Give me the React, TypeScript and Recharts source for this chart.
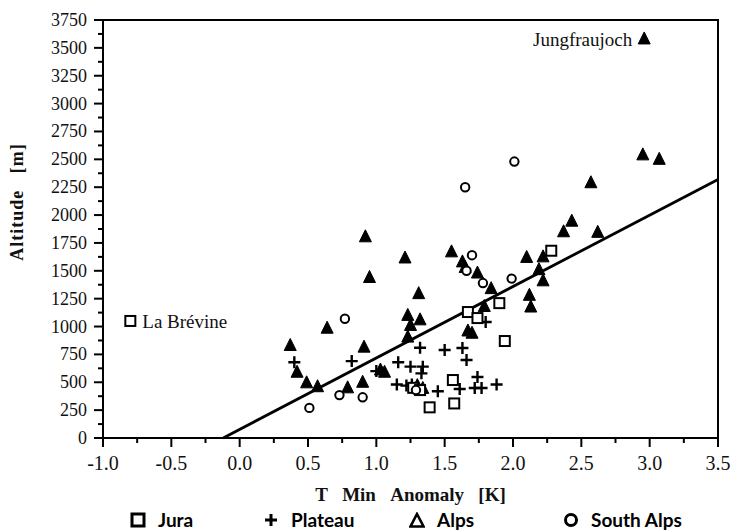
import React from "react";
import { ScatterChart, Scatter, XAxis, YAxis, ReferenceLine, ReferenceArea, ReferenceDot } from "recharts";

// tick positions
const xTicks = [-1, -0.75, -0.5, -0.25, 0, 0.25, 0.5, 0.75, 1, 1.25, 1.5, 1.75, 2, 2.25, 2.5, 2.75, 3, 3.25, 3.5];
const yTicks = [
  0, 125, 250, 375, 500, 625, 750, 875, 1000, 1125, 1250, 1375, 1500, 1625, 1750, 1875, 2000, 2125, 2250, 2375, 2500,
  2625, 2750, 2875, 3000, 3125, 3250, 3375, 3500, 3625, 3750,
];

// [T min anomaly (K), altitude (m)]
const jura: [number, number][] = [
  [-0.8, 1050], [2.28, 1680], [1.9, 1210], [1.94, 870], [1.67, 1130], [1.74, 1076],
  [1.56, 520], [1.39, 275], [1.57, 310], [1.27, 450], [1.32, 430],
];

const plateau: [number, number][] = [
  [0.4, 680], [0.82, 690], [1.0, 600], [1.16, 680], [1.25, 640], [1.32, 810], [1.34, 640],
  [1.33, 580], [1.15, 480], [1.26, 480], [1.45, 420], [1.5, 790], [1.63, 807], [1.66, 700],
  [1.8, 1040], [1.61, 440], [1.74, 547], [1.72, 448], [1.77, 448], [1.88, 480], [1.22, 470],
];

const alps: [number, number][] = [
  [2.96, 3580], [2.95, 2540], [3.07, 2500], [2.57, 2290], [2.43, 1945], [2.37, 1850], [2.62, 1845],
  [2.1, 1620], [2.22, 1625], [2.19, 1510], [2.22, 1410], [2.12, 1280], [2.13, 1175], [0.92, 1805],
  [0.95, 1440], [1.21, 1615], [1.55, 1670], [1.31, 1295], [1.23, 1100], [1.32, 1060], [1.25, 1010],
  [1.23, 905], [1.67, 960], [1.7, 940], [1.63, 1580], [1.65, 1530], [1.74, 1480], [1.79, 1180],
  [0.37, 830], [0.64, 985], [0.91, 815], [0.42, 590], [0.49, 495], [0.57, 460], [0.79, 450],
  [0.9, 500], [1.03, 610], [1.06, 590], [1.3, 470], [1.34, 445], [1.84, 1340],
];

const southAlps: [number, number][] = [
  [2.01, 2480], [1.65, 2250], [1.7, 1640], [1.66, 1500], [1.78, 1390], [1.99, 1430],
  [0.77, 1070], [0.51, 270], [0.73, 385], [0.9, 365], [1.29, 430],
];

const regression = [
  { t: -0.12, alt: 0 },
  { t: 3.5, alt: 2320 },
];

const stations = [
  { t: 2.96, alt: 3580, name: "Jungfraujoch", side: "left" },
  { t: -0.8, alt: 1050, name: "La Brévine", side: "right" },
];

const toRows = (pts: [number, number][]) => pts.map(([t, alt]) => ({ t, alt }));

const serif = "'Liberation Serif', 'DejaVu Serif', serif";
const sp = "\u00a0\u00a0\u00a0";

const SquareMark = ({ cx, cy }: any) => (
  <rect x={cx - 5} y={cy - 5} width={10} height={10} fill="#fff" stroke="#000" strokeWidth={2} />
);
const CrossMark = ({ cx, cy }: any) => (
  <path d={`M${cx - 6},${cy}H${cx + 6}M${cx},${cy - 6}V${cy + 6}`} stroke="#000" strokeWidth={2.4} />
);
const TriangleMark = ({ cx, cy }: any) => (
  <path d={`M${cx},${cy - 7}L${cx + 6},${cy + 5}L${cx - 6},${cy + 5}Z`} fill="#000" stroke="#000" strokeWidth={1} />
);
const CircleMark = ({ cx, cy }: any) => (
  <circle cx={cx} cy={cy} r={4.2} fill="#fff" stroke="#000" strokeWidth={2} />
);

const XTick = ({ x, y, payload }: any) => {
  const v = payload.value;
  const major = Math.abs(v * 2 - Math.round(v * 2)) < 1e-6;
  return (
    <g>
      <line x1={x} x2={x} y1={y} y2={y + (major ? 9 : 5)} stroke="#000" strokeWidth={2} />
      {major && (
        <text x={x} y={y + 32} textAnchor="middle" style={{ fontFamily: serif, fontSize: 20 }} fill="#111">
          {v.toFixed(1)}
        </text>
      )}
    </g>
  );
};

const YTick = ({ x, y, payload }: any) => {
  const v = payload.value;
  const major = v % 250 === 0;
  return (
    <g>
      <line x1={x} x2={x - (major ? 9 : 5)} y1={y} y2={y} stroke="#000" strokeWidth={2} />
      {major && (
        <text x={x - 16} y={y + 6} textAnchor="end" style={{ fontFamily: serif, fontSize: 18 }} fill="#111">
          {v}
        </text>
      )}
    </g>
  );
};

const legendItems = [
  { name: "Jura", icon: "square", x: 130 },
  { name: "Plateau", icon: "cross", x: 263 },
  { name: "Alps", icon: "triangle", x: 409 },
  { name: "South Alps", icon: "circle", x: 563 },
];

function LegendIcon({ icon }: { icon: string }) {
  return (
    <svg width={16} height={16} style={{ marginRight: 12 }}>
      {icon === "square" && <rect x={2} y={2} width={12} height={12} fill="none" stroke="#000" strokeWidth={3} />}
      {icon === "cross" && <path d="M2,8H14M8,2V14" stroke="#000" strokeWidth={3} />}
      {icon === "triangle" && <path d="M8,2L14.5,14.5H1.5Z" fill="none" stroke="#000" strokeWidth={2.6} />}
      {icon === "circle" && <circle cx={8} cy={8} r={5.5} fill="none" stroke="#000" strokeWidth={3} />}
    </svg>
  );
}

export default function App() {
  return (
    <div style={{ position: "absolute", left: 0, top: 0, width: 733, height: 530, background: "#fff" }}>
      <ScatterChart width={733} height={530} margin={{ top: 20, right: 15, bottom: 22, left: 0 }}>
        <XAxis
          type="number"
          dataKey="t"
          domain={[-1, 3.5]}
          ticks={xTicks}
          interval={0}
          tickSize={0}
          tickMargin={0}
          tickLine={false}
          tick={<XTick />}
          height={70}
          axisLine={{ stroke: "#000", strokeWidth: 2 }}
          allowDataOverflow
          label={{
            value: `T${sp}Min${sp}Anomaly${sp}[K]`,
            position: "insideBottom",
            offset: 7,
            style: { fontFamily: serif, fontSize: 19, fontWeight: "bold", fill: "#111" },
          }}
        />
        <YAxis
          type="number"
          dataKey="alt"
          domain={[0, 3750]}
          ticks={yTicks}
          interval={0}
          tickSize={0}
          tickMargin={0}
          tickLine={false}
          tick={<YTick />}
          width={103}
          axisLine={{ stroke: "#000", strokeWidth: 2 }}
          allowDataOverflow
          label={{
            content: () => (
              <text
                transform="translate(23,202) rotate(-90)"
                textAnchor="middle"
                style={{ fontFamily: serif, fontSize: 18, fontWeight: "bold", letterSpacing: 1 }}
                fill="#111"
              >
                {`Altitude${sp}[m]`}
              </text>
            ),
          }}
        />
        <ReferenceArea x1={-1} x2={3.5} y1={0} y2={3750} fill="none" stroke="#000" strokeWidth={2} />
        <ReferenceLine
          segment={[
            { x: regression[0].t, y: regression[0].alt },
            { x: regression[1].t, y: regression[1].alt },
          ]}
          stroke="#000"
          strokeWidth={2.8}
        />
        <Scatter name="Alps" data={toRows(alps)} shape={TriangleMark} isAnimationActive={false} />
        <Scatter name="Plateau" data={toRows(plateau)} shape={CrossMark} isAnimationActive={false} />
        <Scatter name="Jura" data={toRows(jura)} shape={SquareMark} isAnimationActive={false} />
        <Scatter name="South Alps" data={toRows(southAlps)} shape={CircleMark} isAnimationActive={false} />
        {stations.map((s) => (
          <ReferenceDot
            key={s.name}
            x={s.t}
            y={s.alt}
            r={0}
            stroke="none"
            fill="none"
            label={{
              value: s.name,
              position: s.side as any,
              offset: 12,
              style: { fontFamily: serif, fontSize: 19, fill: "#111" },
            }}
          />
        ))}
      </ScatterChart>
      {legendItems.map((it) => (
        <div
          key={it.name}
          style={{
            position: "absolute",
            left: it.x,
            top: 509,
            display: "flex",
            alignItems: "center",
            fontFamily: "Lato, 'Open Sans', sans-serif",
            fontWeight: 700,
            fontSize: 19,
            color: "#000",
            lineHeight: "22px",
          }}
        >
          <LegendIcon icon={it.icon} />
          {it.name}
        </div>
      ))}
    </div>
  );
}
